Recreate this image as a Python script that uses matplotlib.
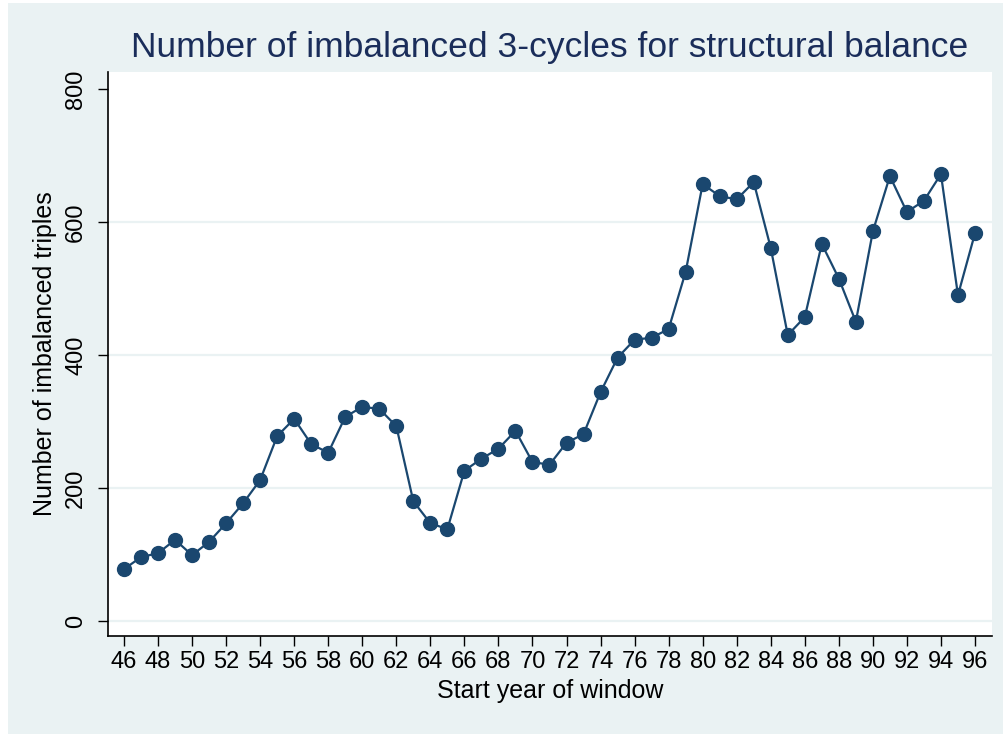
import numpy as np
import matplotlib
matplotlib.use("Agg")
import matplotlib.pyplot as plt
from matplotlib.patches import Rectangle

plt.rcParams['font.family'] = ['Liberation Sans', 'DejaVu Sans']

# start year of window and number of imbalanced triples
years = np.arange(46, 97)
triples = [78, 96, 102, 122, 99, 119, 147, 177, 212, 278,
           304, 266, 253, 307, 322, 319, 293, 180, 147, 138,
           226, 244, 259, 286, 239, 235, 268, 281, 344, 396,
           423, 426, 439, 525, 657, 639, 634, 660, 561, 430,
           457, 567, 515, 450, 586, 669, 615, 632, 672, 490, 583]
xticks = np.arange(46, 97, 2)
yticks = [0, 200, 400, 600, 800]

navy = '#1a476f'
bg = '#eaf2f3'

fig = plt.figure(figsize=(10.04, 7.34), dpi=100, facecolor='white')
# stata graph region (small white strip left/top)
fig.patches.append(Rectangle((8/1004, 0), 1, 1 - 3/734, transform=fig.transFigure,
                             facecolor=bg, edgecolor='none', zorder=-10))

ax = fig.add_axes([108/1004, 1 - 636/734, (992-108)/1004, (636-72)/734])
ax.set_facecolor('white')

for g in [0, 200, 400, 600]:
    ax.axhline(g, color=bg, lw=1.6, zorder=0)

ax.plot(years, triples, color=navy, lw=1.6, marker='o', markersize=10,
        markerfacecolor=navy, markeredgecolor=navy, zorder=3)

ax.set_xlim(45.06, 97.0)
ax.set_ylim(-22.6, 825.6)
ax.set_xticks(xticks)
ax.set_xticklabels([str(t) for t in xticks], fontsize=17)
ax.set_yticks(yticks)
ax.set_yticklabels([str(t) for t in yticks], fontsize=17, rotation=90, va='center')
ax.tick_params(axis='both', direction='out', length=7, width=1, color='black')
ax.tick_params(axis='y', pad=8)
ax.tick_params(axis='x', pad=4)

for s in ['top', 'right']:
    ax.spines[s].set_visible(False)
for s in ['left', 'bottom']:
    ax.spines[s].set_linewidth(1.2)

ax.set_xlabel('Start year of window', fontsize=18, labelpad=4)
ax.set_ylabel('Number of imbalanced triples', fontsize=18, labelpad=6)
ax.set_title('Number of imbalanced 3-cycles for structural balance',
             fontsize=25.5, color='#1a2d5a', pad=11)

fig.savefig('out.png', dpi=100, facecolor=fig.get_facecolor())
